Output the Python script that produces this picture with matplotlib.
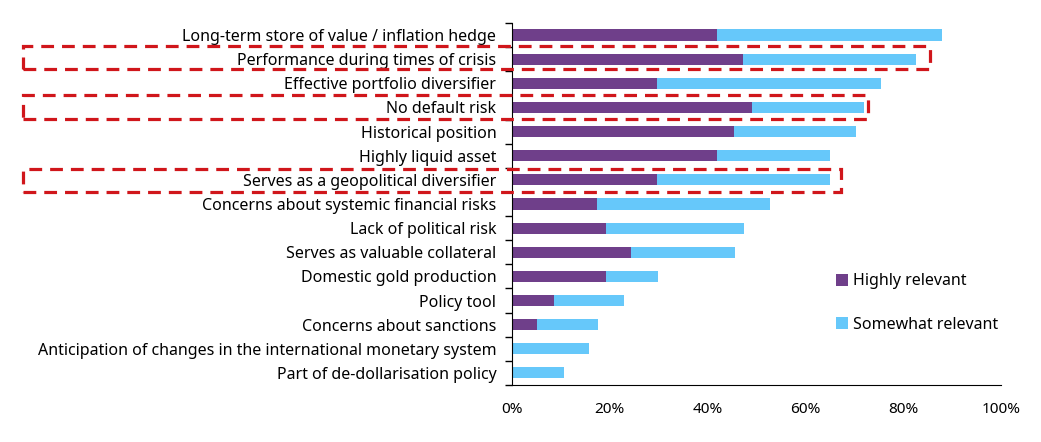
import numpy as np
import matplotlib.pyplot as plt
from matplotlib.patches import Rectangle
from matplotlib.ticker import PercentFormatter, FixedLocator

plt.rcParams['font.family'] = ['Noto Sans', 'DejaVu Sans']

categories = [
    "Long-term store of value / inflation hedge",
    "Performance during times of crisis",
    "Effective portfolio diversifier",
    "No default risk",
    "Historical position",
    "Highly liquid asset",
    "Serves as a geopolitical diversifier",
    "Concerns about systemic financial risks",
    "Lack of political risk",
    "Serves as valuable collateral",
    "Domestic gold production",
    "Policy tool",
    "Concerns about sanctions",
    "Anticipation of changes in the international monetary system",
    "Part of de-dollarisation policy",
]
highly = [42.0, 47.3, 29.7, 49.1, 45.4, 42.0, 29.7, 17.5, 19.3, 24.4, 19.3, 8.7, 5.2, 0.0, 0.0]
total = [87.9, 82.6, 75.5, 72.0, 70.4, 65.1, 65.1, 52.8, 47.5, 45.7, 29.9, 23.0, 17.7, 15.8, 10.7]
somewhat = [t - h for t, h in zip(total, highly)]

purple = "#6f3f8a"
blue = "#66c8fa"
red = "#d0161b"

fig = plt.figure(figsize=(10.41, 4.42), dpi=100)
ax = fig.add_axes([0.4914, 0.129, 0.4702, 0.819])

y = np.arange(len(categories))
ax.barh(y, highly, height=0.46, color=purple, label="Highly relevant")
ax.barh(y, somewhat, left=highly, height=0.46, color=blue, label="Somewhat relevant")

ax.set_ylim(len(categories) - 0.5, -0.5)
ax.set_xlim(0, 100)
ax.xaxis.set_major_formatter(PercentFormatter(decimals=0))
ax.set_xticks(np.arange(0, 101, 20))
ax.tick_params(axis="x", length=0, labelsize=11, pad=12)

# labels at category centres, tick marks at category boundaries
ax.set_yticks(y)
ax.set_yticklabels(categories, fontsize=11.5)
ax.tick_params(axis="y", which="major", length=0, pad=11)
ax.yaxis.set_minor_locator(FixedLocator(np.arange(-0.5, len(categories), 1)))
ax.tick_params(axis="y", which="minor", length=5, width=1)

for s in ["top", "right"]:
    ax.spines[s].set_visible(False)

ax.legend(loc="lower left", bbox_to_anchor=(0.633, 0.105), frameon=False,
          fontsize=11.5, handlelength=0.75, handleheight=0.75, handletextpad=0.3,
          labelspacing=1.7)

# red dashed highlight boxes (figure pixel coords)
W, H = 1041, 442
for x0, x1, y0, y1 in [(23, 930, 46, 69), (23, 868, 95, 119), (23, 841, 169, 192)]:
    fig.patches.append(Rectangle((x0 / W, 1 - y1 / H), (x1 - x0) / W, (y1 - y0) / H,
                                 transform=fig.transFigure, fill=False,
                                 edgecolor=red, lw=2.3, ls=(0, (4, 2.5))))

fig.savefig("out.png", dpi=100)
